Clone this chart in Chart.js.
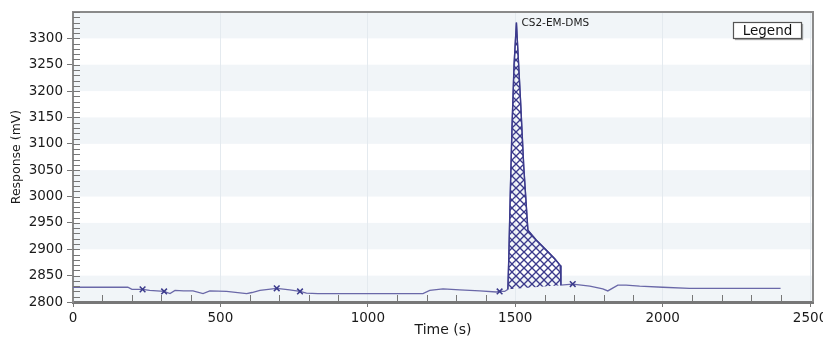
<!DOCTYPE html>
<html>
<head>
<meta charset="utf-8">
<script src="https://cdn.jsdelivr.net/npm/chart.js@4.4.0/dist/chart.umd.min.js"></script>
<style>
  html, body { margin: 0; padding: 0; background: #fff; }
  #wrap { width: 823px; height: 340px; }
</style>
</head>
<body>
<div id="wrap"><canvas id="chrom"></canvas></div>
<script>
// chromatogram trace, time in s, response in mV
const times = [0, 186, 200, 236, 260, 309, 329, 346, 375, 407, 441, 464, 521, 589, 607, 634, 691, 735, 770, 792, 830, 1000, 1187, 1210, 1255, 1312, 1380, 1436, 1447, 1464,
  1475, 1478, 1483, 1489, 1496, 1504, 1518, 1529, 1543, 1572, 1606, 1634, 1653, 1655,
  1695, 1753, 1797, 1814, 1848, 1876, 1922, 2000, 2091, 2400];
const response = [2828, 2828, 2824, 2824, 2822, 2820, 2816, 2822, 2821, 2821, 2816, 2821, 2820, 2816, 2818, 2822, 2826, 2823, 2820, 2817, 2816, 2816, 2816, 2822, 2825, 2823, 2821, 2819, 2820, 2820,
  2824, 2880, 3000, 3130, 3250, 3330, 3182, 3056, 2936, 2917, 2898, 2882, 2869, 2832,
  2834, 2830, 2825, 2821, 2832, 2832, 2830, 2828, 2826, 2826];

// integrated peak
const peakName = 'CS2-EM-DMS';
const peakStart = 1475;
const peakEnd = 1655;
const peakBaseline = [2824, 2832];

// integration marks
const markTimes = [236, 309, 691, 770, 1447, 1695];
const markValues = [2824, 2820, 2826, 2820, 2820, 2834];

const yTicks = [2800, 2850, 2900, 2950, 3000, 3050, 3100, 3150, 3200, 3250, 3300];
const xTicks = [0, 500, 1000, 1500, 2000, 2500];

const traceColor = '#6a68a8';
const hatchColor = '#3b3a8c';

function makeHatch() {
  const c = document.createElement('canvas');
  c.width = 8; c.height = 8;
  const g = c.getContext('2d');
  g.strokeStyle = hatchColor;
  g.lineWidth = 1.3;
  for (const k of [-8, 0, 8]) {
    g.beginPath(); g.moveTo(k, 0); g.lineTo(k + 8, 8); g.stroke();
    g.beginPath(); g.moveTo(k + 8, 0); g.lineTo(k, 8); g.stroke();
  }
  return g.createPattern(c, 'repeat');
}

const trace = times.map((t, i) => ({ x: t, y: response[i] }));
const peakPts = trace.filter(p => p.x >= peakStart && p.x <= peakEnd);
const basePts = [{ x: peakStart, y: peakBaseline[0] }, { x: peakEnd, y: peakBaseline[1] }];
const marks = markTimes.map((t, i) => ({ x: t, y: markValues[i] }));

const font = { family: 'DejaVu Sans', size: 13.5 };

const decor = {
  id: 'decor',
  beforeDraw(chart) {
    const { ctx, chartArea: a, scales: { y } } = chart;
    ctx.save();
    ctx.fillStyle = '#f1f5f8';
    for (let v = 2800; v < 3350; v += 100) {
      const top = y.getPixelForValue(v + 50);
      const bot = y.getPixelForValue(v);
      ctx.fillRect(a.left, top, a.right - a.left, bot - top);
    }
    ctx.restore();
  },
  afterDraw(chart) {
    const { ctx, chartArea: a, scales: { x, y } } = chart;
    ctx.save();
    // frame top and right
    ctx.strokeStyle = '#8a8a8a';
    ctx.lineWidth = 2;
    ctx.beginPath();
    ctx.moveTo(a.left, a.top);
    ctx.lineTo(a.right, a.top);
    ctx.lineTo(a.right, a.bottom);
    ctx.stroke();
    // minor ticks
    ctx.strokeStyle = '#777';
    ctx.lineWidth = 1;
    ctx.beginPath();
    for (let v = 2810; v <= 3350; v += 10) {
      const py = Math.round(y.getPixelForValue(v)) + 0.5;
      ctx.moveTo(a.left, py); ctx.lineTo(a.left + 7, py);
    }
    for (let t = 100; t <= 2400; t += 100) {
      if (t % 500 === 0) continue;
      const px = Math.round(x.getPixelForValue(t)) + 0.5;
      ctx.moveTo(px, a.bottom); ctx.lineTo(px, a.bottom - 7);
    }
    ctx.stroke();
    // peak label
    const apex = peakPts.reduce((m, p) => (p.y > m.y ? p : m), peakPts[0]);
    ctx.fillStyle = '#1a1a1a';
    ctx.font = '10.5px "DejaVu Sans"';
    ctx.textBaseline = 'middle';
    ctx.fillText(peakName, x.getPixelForValue(apex.x) + 5, y.getPixelForValue(apex.y) + 1);
    // legend box
    ctx.fillStyle = '#fff';
    ctx.shadowColor = 'rgba(0,0,0,0.35)';
    ctx.shadowOffsetX = 1.5; ctx.shadowOffsetY = 1.5; ctx.shadowBlur = 1;
    ctx.fillRect(733.5, 22.5, 68, 16);
    ctx.shadowColor = 'transparent';
    ctx.strokeStyle = '#555';
    ctx.lineWidth = 1.2;
    ctx.strokeRect(733.5, 22.5, 68, 16);
    ctx.fillStyle = '#111';
    ctx.font = '13.5px "DejaVu Sans"';
    ctx.textAlign = 'center';
    ctx.fillText('Legend', 767.5, 31);
    ctx.restore();
  }
};

new Chart(document.getElementById('chrom'), {
  type: 'line',
  data: {
    datasets: [
      {
        data: marks,
        showLine: false,
        pointStyle: 'crossRot',
        pointRadius: 4,
        pointBorderWidth: 1.5,
        pointBorderColor: hatchColor,
        order: 0
      },
      {
        data: peakPts,
        borderColor: hatchColor,
        borderWidth: 1.4,
        pointRadius: 0,
        backgroundColor: makeHatch(),
        fill: 2,
        order: 1
      },
      {
        data: basePts,
        borderWidth: 0,
        borderColor: 'transparent',
        pointRadius: 0,
        fill: false,
        order: 3
      },
      {
        data: trace,
        borderColor: traceColor,
        borderWidth: 1.3,
        pointRadius: 0,
        fill: false,
        order: 2
      }
    ]
  },
  options: {
    responsive: true,
    maintainAspectRatio: false,
    animation: false,
    layout: { padding: { left: 0, right: 10, top: 12, bottom: 0 } },
    plugins: { legend: { display: false }, tooltip: { enabled: false } },
    scales: {
      x: {
        type: 'linear',
        min: 0,
        max: 2510,
        afterFit(s) { s.height = 38; s.paddingLeft = 0; s.paddingRight = 0; },
        afterBuildTicks(s) { s.ticks = xTicks.map(v => ({ value: v })); },
        ticks: {
          includeBounds: false,
          padding: 3,
          color: '#1a1a1a',
          font,
          maxRotation: 0,
          callback: v => String(v)
        },
        grid: {
          color: '#e4eaef',
          lineWidth: 1,
          tickLength: 5,
          tickColor: '#777'
        },
        border: { color: '#777', width: 3 },
        title: {
          display: true,
          text: 'Time (s)',
          color: '#1a1a1a',
          font: { family: 'DejaVu Sans', size: 14 },
          padding: { top: 0, bottom: 1 }
        }
      },
      y: {
        min: 2800,
        max: 3350,
        afterFit(s) { s.width = 73; s.paddingTop = 0; s.paddingBottom = 0; },
        afterBuildTicks(s) { s.ticks = yTicks.map(v => ({ value: v })); },
        ticks: {
          includeBounds: false,
          padding: 4,
          color: '#1a1a1a',
          font,
          callback: v => String(v)
        },
        grid: {
          drawOnChartArea: false,
          tickLength: 6,
          tickColor: '#777'
        },
        border: { color: '#8a8a8a', width: 2 },
        title: {
          display: true,
          text: 'Response (mV)',
          color: '#1a1a1a',
          font: { family: 'DejaVu Sans', size: 12.5 },
          padding: { top: 9.5, bottom: 0 }
        }
      }
    }
  },
  plugins: [decor]
});
</script>
</body>
</html>
